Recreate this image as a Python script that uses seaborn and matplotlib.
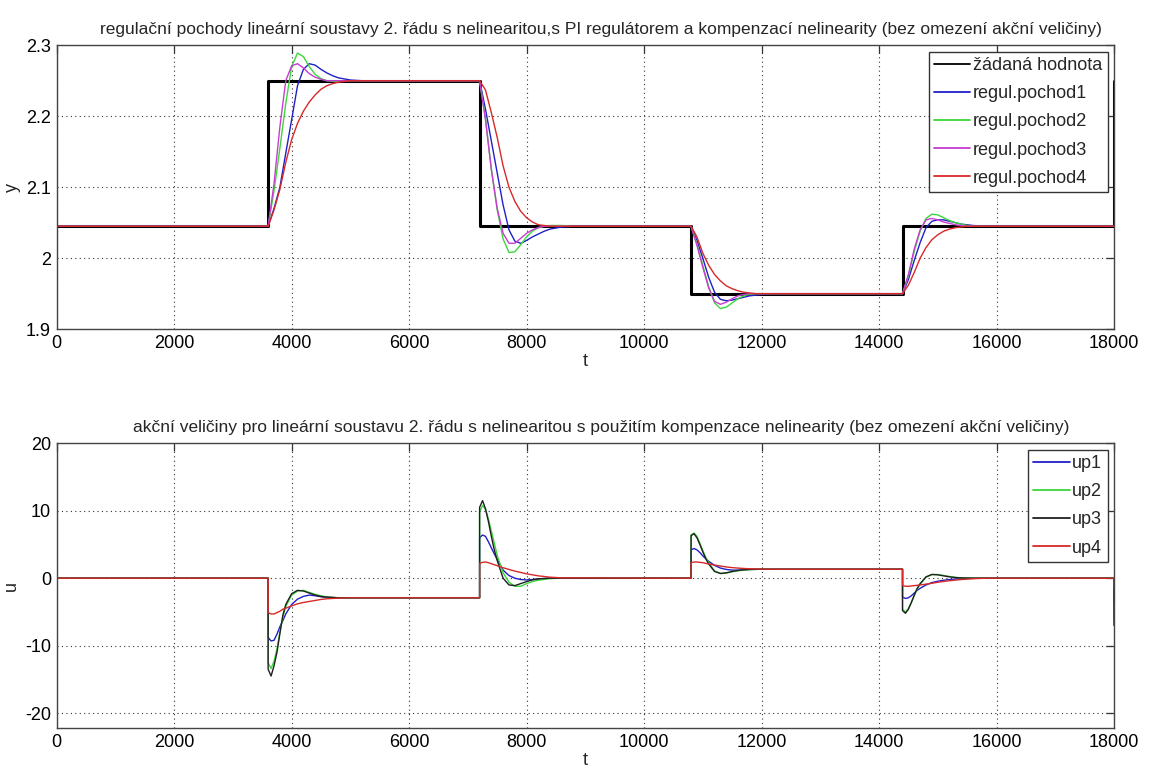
import matplotlib
matplotlib.use("Agg")
import matplotlib.pyplot as plt
import seaborn as sns
import pandas as pd

# ---------------- data ----------------
T_END = 18000
STEP_TIMES = [3600, 7200, 10800, 14400]
SETPOINT_LEVELS = [2.045, 2.25, 2.045, 1.95, 2.045]
SETPOINT_FINAL = 2.25

# relative time (after each step) at which the responses were read
TAU_Y = [0, 100, 200, 300, 400, 500, 600, 700, 800, 900, 1000, 1100, 1200, 1400, 1600]

pochod1 = [
    [2.045, 2.07, 2.10, 2.148, 2.195, 2.243, 2.266, 2.274, 2.272, 2.266, 2.261, 2.257, 2.254, 2.251, 2.25],
    [2.25, 2.21, 2.165, 2.12, 2.075, 2.04, 2.024, 2.021, 2.025, 2.03, 2.034, 2.038, 2.041, 2.044, 2.045],
    [2.045, 2.025, 2.0, 1.973, 1.952, 1.942, 1.940, 1.941, 1.943, 1.945, 1.947, 1.948, 1.949, 1.95, 1.95],
    [1.95, 1.97, 1.997, 2.022, 2.043, 2.052, 2.054, 2.054, 2.052, 2.05, 2.048, 2.047, 2.046, 2.045, 2.045],
]
pochod2 = [
    [2.045, 2.095, 2.155, 2.218, 2.270, 2.289, 2.284, 2.270, 2.259, 2.253, 2.250, 2.249, 2.249, 2.25, 2.25],
    [2.25, 2.197, 2.125, 2.068, 2.027, 2.008, 2.009, 2.019, 2.03, 2.038, 2.043, 2.045, 2.046, 2.046, 2.045],
    [2.045, 2.02, 1.99, 1.96, 1.937, 1.929, 1.931, 1.937, 1.943, 1.947, 1.949, 1.95, 1.95, 1.95, 1.95],
    [1.95, 1.975, 2.01, 2.038, 2.056, 2.062, 2.061, 2.057, 2.053, 2.05, 2.048, 2.046, 2.045, 2.045, 2.045],
]
pochod3 = [
    [2.045, 2.105, 2.185, 2.250, 2.271, 2.274, 2.268, 2.260, 2.255, 2.252, 2.250, 2.25, 2.25, 2.25, 2.25],
    [2.25, 2.195, 2.125, 2.07, 2.035, 2.021, 2.021, 2.028, 2.035, 2.04, 2.043, 2.045, 2.045, 2.045, 2.045],
    [2.045, 2.018, 1.987, 1.958, 1.939, 1.935, 1.938, 1.943, 1.947, 1.949, 1.95, 1.95, 1.95, 1.95, 1.95],
    [1.95, 1.977, 2.013, 2.04, 2.054, 2.056, 2.054, 2.051, 2.049, 2.047, 2.046, 2.045, 2.045, 2.045, 2.045],
]
pochod4 = [
    [2.045, 2.068, 2.097, 2.135, 2.167, 2.19, 2.207, 2.22, 2.23, 2.238, 2.243, 2.246, 2.248, 2.25, 2.25],
    [2.25, 2.237, 2.205, 2.17, 2.13, 2.10, 2.08, 2.066, 2.057, 2.051, 2.047, 2.046, 2.045, 2.045, 2.045],
    [2.045, 2.03, 2.007, 1.99, 1.977, 1.968, 1.961, 1.957, 1.954, 1.952, 1.951, 1.95, 1.95, 1.95, 1.95],
    [1.95, 1.962, 1.98, 2.0, 2.015, 2.026, 2.033, 2.038, 2.041, 2.043, 2.044, 2.045, 2.045, 2.045, 2.045],
]

# first entry = level just before the step, second = value just after it
TAU_U = [0, 0, 50, 100, 150, 200, 250, 300, 400, 500, 600, 700, 800, 900, 1000, 1200, 1400]

up1 = [
    [0, -8.8, -9.3, -9.2, -8.3, -7.2, -6.3, -5.3, -3.9, -3.1, -2.7, -2.5, -2.6, -2.75, -2.85, -2.9, -2.9],
    [-2.9, 6.0, 6.4, 6.2, 5.4, 4.5, 3.6, 2.8, 1.2, 0.4, 0.0, -0.2, -0.25, -0.2, -0.1, 0, 0],
    [0, 4.2, 4.4, 4.2, 3.8, 3.3, 2.9, 2.5, 1.9, 1.5, 1.3, 1.2, 1.2, 1.25, 1.3, 1.33, 1.33],
    [1.33, -2.8, -3.0, -2.9, -2.6, -2.2, -1.8, -1.5, -1.0, -0.65, -0.45, -0.3, -0.2, -0.12, -0.06, 0, 0],
]
up2 = [
    [0, -12.5, -13.4, -12.3, -10.5, -8.0, -5.8, -4.2, -2.5, -1.9, -1.8, -2.1, -2.4, -2.6, -2.8, -2.9, -2.9],
    [-2.9, 9.8, 10.8, 10.2, 8.8, 7.0, 5.2, 3.4, 0.8, -0.6, -1.2, -1.2, -0.8, -0.5, -0.3, -0.05, 0],
    [0, 6.4, 6.7, 6.2, 5.2, 4.1, 3.1, 2.3, 1.1, 0.7, 0.75, 0.95, 1.1, 1.2, 1.28, 1.33, 1.33],
    [1.33, -4.6, -5.0, -4.5, -3.6, -2.6, -1.6, -0.9, 0.15, 0.55, 0.55, 0.4, 0.25, 0.12, 0.05, 0, 0],
]
up3 = [
    [0, -13.5, -14.5, -13.0, -11.0, -8.2, -5.5, -3.9, -2.3, -1.8, -1.9, -2.2, -2.5, -2.7, -2.8, -2.9, -2.9],
    [-2.9, 10.5, 11.5, 10.3, 8.4, 6.2, 4.2, 2.6, 0.0, -1.0, -1.1, -0.8, -0.5, -0.25, -0.1, 0, 0],
    [0, 6.3, 6.6, 6.0, 5.0, 3.9, 2.9, 2.1, 1.0, 0.7, 0.8, 1.0, 1.15, 1.25, 1.3, 1.33, 1.33],
    [1.33, -4.8, -5.2, -4.6, -3.6, -2.5, -1.5, -0.8, 0.2, 0.55, 0.5, 0.35, 0.2, 0.1, 0.05, 0, 0],
]
up4 = [
    [0, -5.1, -5.3, -5.3, -5.1, -4.9, -4.6, -4.45, -4.1, -3.8, -3.6, -3.45, -3.3, -3.15, -3.05, -2.95, -2.9],
    [-2.9, 2.2, 2.35, 2.4, 2.3, 2.15, 2.0, 1.85, 1.55, 1.3, 1.05, 0.85, 0.65, 0.5, 0.35, 0.15, 0.05],
    [0, 2.3, 2.4, 2.4, 2.35, 2.3, 2.2, 2.1, 1.95, 1.8, 1.67, 1.57, 1.5, 1.44, 1.4, 1.35, 1.33],
    [1.33, -1.05, -1.2, -1.2, -1.15, -1.1, -1.05, -1.0, -0.88, -0.75, -0.6, -0.48, -0.37, -0.28, -0.2, -0.08, 0],
]
# value of each action signal at the very last sample (t = 18000)
U_LAST = [-3.5, -6.0, -7.0, -1.5]

Y_LABELS = ["regul.pochod1", "regul.pochod2", "regul.pochod3", "regul.pochod4"]
U_LABELS = ["up1", "up2", "up3", "up4"]
SP_LABEL = "žádaná hodnota"
TITLE_TOP = ("regulační pochody lineární soustavy 2. řádu s nelinearitou,s PI regulátorem "
             "a kompenzací nelinearity (bez omezení akční veličiny)")
TITLE_BOT = ("akční veličiny pro lineární soustavu 2. řádu s nelinearitou s použitím "
             "kompenzace nelinearity (bez omezení akční veličiny)")
X_TICKS = [0, 2000, 4000, 6000, 8000, 10000, 12000, 14000, 16000, 18000]
Y_TICKS = [1.9, 2.0, 2.1, 2.2, 2.3]
Y_TICKLABELS = ["1.9", "2", "2.1", "2.2", "2.3"]
U_TICKS = [-20, -10, 0, 10, 20]

# ---------------- build long tables ----------------
def build_y(series):
    t = [0.0]
    v = [series[0][0]]
    for k, ts in enumerate(STEP_TIMES):
        t += [ts + tau for tau in TAU_Y]
        v += series[k]
    t.append(T_END)
    v.append(series[-1][-1])
    return t, v

def build_u(series, last):
    t = [0.0]
    v = [series[0][0]]
    for k, ts in enumerate(STEP_TIMES):
        t += [ts + tau for tau in TAU_U]
        v += series[k]
    t += [T_END, T_END]
    v += [series[-1][-1], last]
    return t, v

sp_t = [0.0]
sp_v = [SETPOINT_LEVELS[0]]
for k, ts in enumerate(STEP_TIMES):
    sp_t += [ts, ts]
    sp_v += [SETPOINT_LEVELS[k], SETPOINT_LEVELS[k + 1]]
sp_t += [T_END, T_END]
sp_v += [SETPOINT_LEVELS[-1], SETPOINT_FINAL]

rows = []
for i, (t, v) in enumerate(zip(sp_t, sp_v)):
    rows.append((SP_LABEL, i, t, v))
for lab, s in zip(Y_LABELS, [pochod1, pochod2, pochod3, pochod4]):
    t, v = build_y(s)
    for i, (a, b) in enumerate(zip(t, v)):
        rows.append((lab, i, a, b))
df_y = pd.DataFrame(rows, columns=["serie", "i", "t", "y"])

rows = []
for lab, s, last in zip(U_LABELS, [up1, up2, up3, up4], U_LAST):
    t, v = build_u(s, last)
    for i, (a, b) in enumerate(zip(t, v)):
        rows.append((lab, i, a, b))
df_u = pd.DataFrame(rows, columns=["serie", "i", "t", "u"])

# ---------------- style ----------------
sns.set_theme(style="white")
plt.rcParams["font.family"] = ["Liberation Sans Narrow", "Liberation Sans", "DejaVu Sans"]
plt.rcParams["axes.edgecolor"] = "#444444"
plt.rcParams["axes.linewidth"] = 1.0

Y_COLORS = {SP_LABEL: "#000000", "regul.pochod1": "#2020c8", "regul.pochod2": "#3ad83a",
            "regul.pochod3": "#c83cd2", "regul.pochod4": "#d82828"}
U_COLORS = {"up1": "#2020c8", "up2": "#3ad83a", "up3": "#202020", "up4": "#d82828"}

fig = plt.figure(figsize=(11.52, 7.8), dpi=100)
ax1 = fig.add_axes([0.0492, 0.578, 0.9178, 0.364])
ax2 = fig.add_axes([0.0492, 0.0667, 0.9178, 0.365])

FS_TICK = 13
FS_TITLE = 12.5

def style_axes(ax):
    ax.set_xlim(0, T_END)
    ax.set_xticks(X_TICKS)
    ax.set_xticklabels([str(x) for x in X_TICKS])
    ax.tick_params(direction="in", length=6, width=0.9, top=True, right=True,
                   labelsize=FS_TICK, colors="#333333", labelcolor="black", pad=4)
    ax.grid(True, linestyle=(0, (1, 3)), color="#333333", linewidth=0.8)
    for sp in ax.spines.values():
        sp.set_visible(True)
        sp.set_color("#444444")

def style_legend(leg):
    leg.get_frame().set_linewidth(1.0)
    for h in leg.get_lines():
        h.set_linewidth(1.3)

LEG_KW = dict(loc="upper right", fontsize=FS_TICK, frameon=True, fancybox=False,
              edgecolor="#333333", framealpha=1, borderpad=0.3, labelspacing=0.62,
              handlelength=2.0, handletextpad=0.15, borderaxespad=0.35)

# top panel
for lab in [SP_LABEL] + Y_LABELS:
    d = df_y[df_y["serie"] == lab]
    sns.lineplot(data=d, x="t", y="y", ax=ax1, sort=False, estimator=None,
                 color=Y_COLORS[lab], linewidth=2.2 if lab == SP_LABEL else 1.0,
                 label=lab)
style_axes(ax1)
ax1.set_ylim(1.9, 2.3)
ax1.set_yticks(Y_TICKS)
ax1.set_yticklabels(Y_TICKLABELS)
ax1.set_xlabel("t", fontsize=FS_TICK, labelpad=1)
ax1.set_ylabel("y", fontsize=FS_TICK, labelpad=4)
ax1.set_title(TITLE_TOP, fontsize=FS_TITLE, pad=8, x=0.515)
style_legend(ax1.legend(**LEG_KW))

# bottom panel
for lab in U_LABELS:
    d = df_u[df_u["serie"] == lab]
    sns.lineplot(data=d, x="t", y="u", ax=ax2, sort=False, estimator=None,
                 color=U_COLORS[lab], linewidth=1.0, label=lab)
style_axes(ax2)
ax2.set_ylim(-22.2, 20)
ax2.set_yticks(U_TICKS)
ax2.set_yticklabels([str(u) for u in U_TICKS])
ax2.set_xlabel("t", fontsize=FS_TICK, labelpad=1)
ax2.set_ylabel("u", fontsize=FS_TICK, labelpad=4)
ax2.set_title(TITLE_BOT, fontsize=FS_TITLE, pad=8, x=0.515)
style_legend(ax2.legend(**LEG_KW))

fig.savefig("out.png", dpi=100, facecolor="white")
